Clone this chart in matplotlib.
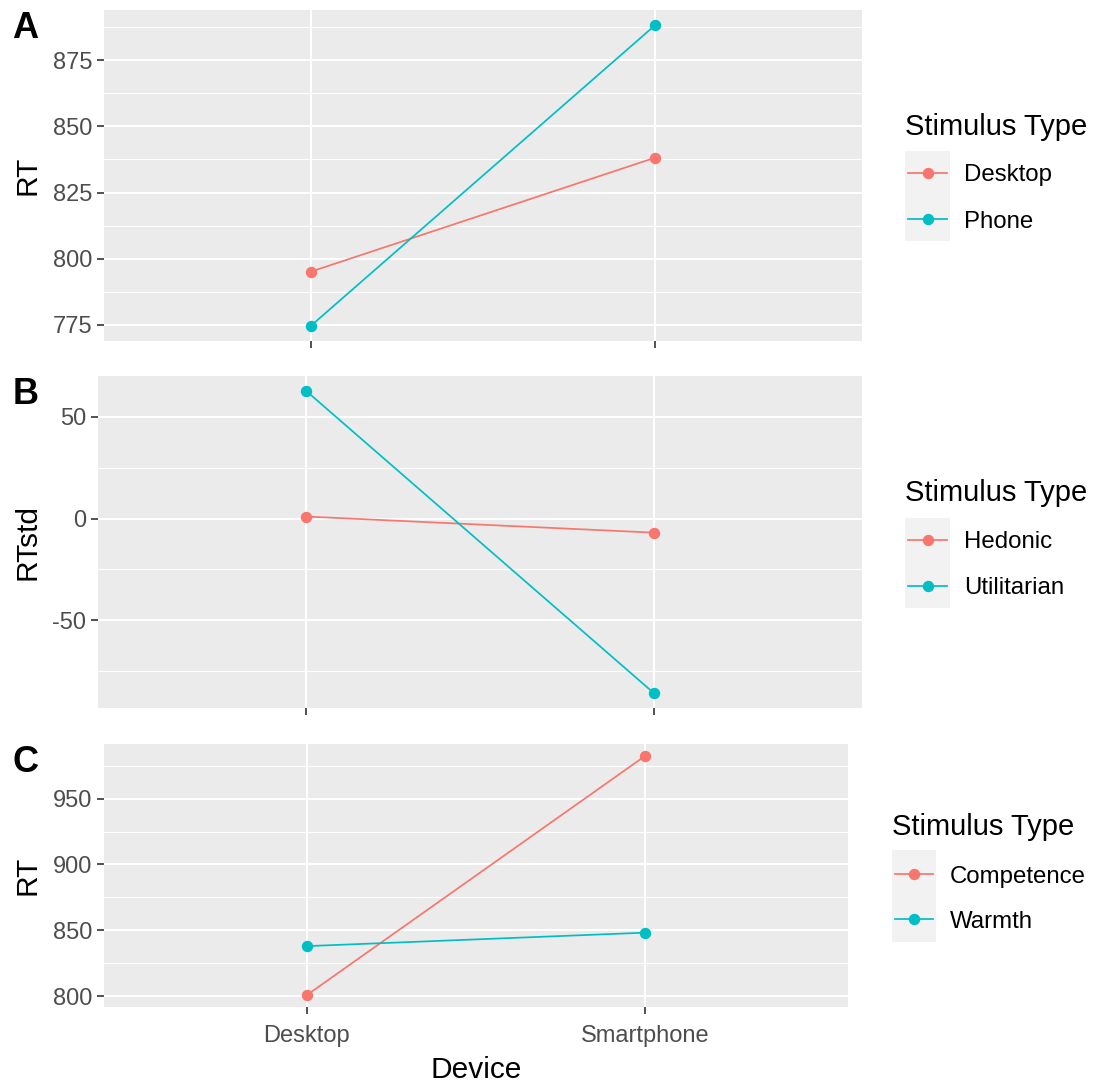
import matplotlib
matplotlib.use("Agg")
import matplotlib.pyplot as plt
from matplotlib.ticker import MultipleLocator, AutoMinorLocator
from matplotlib.lines import Line2D

plt.rcParams['font.family'] = ['Liberation Sans', 'DejaVu Sans']
plt.rcParams['axes.unicode_minus'] = False

# data
devices = ["Desktop", "Smartphone"]

a_groups = ["Desktop", "Phone"]
a_desktop = [795.1, 838.2]
a_phone = [774.6, 888.3]

b_groups = ["Hedonic", "Utilitarian"]
b_hedonic = [1.0, -6.9]
b_utilitarian = [62.6, -85.6]

c_groups = ["Competence", "Warmth"]
c_competence = [801.0, 982.3]
c_warmth = [838.1, 848.3]

colors = ["#F8766D", "#00BFC4"]

W, H = 1099, 1084
fig = plt.figure(figsize=(W / 100, H / 100), dpi=100)


def box(l, t, r, b):
    return [l / W, 1 - b / H, (r - l) / W, (b - t) / H]


def fx(x):
    return x / W


def fy(y):
    return 1 - y / H


def panel(rect, series, labels, ylabel, step, letter, letter_xy, show_x, leg):
    ax = fig.add_axes(box(*rect))
    ax.set_facecolor("#EBEBEB")
    xs = list(range(1, len(devices) + 1))
    for vals, c in zip(series, colors):
        ax.plot(xs, vals, color=c, lw=1.25, marker="o", ms=7.2, mec=c, zorder=3)

    # ggplot style expansion
    allv = [v for s in series for v in s]
    lo, hi = min(allv), max(allv)
    pad = (hi - lo) * 0.05
    ax.set_ylim(lo - pad, hi + pad)
    ax.set_xlim(0.4, len(devices) + 0.6)

    ax.set_xticks(xs)
    ax.set_xticklabels(devices if show_x else [])
    ax.yaxis.set_major_locator(MultipleLocator(step))
    ax.yaxis.set_minor_locator(AutoMinorLocator(2))
    ax.grid(which="major", color="white", lw=1.5)
    ax.grid(which="minor", axis="y", color="white", lw=0.8)
    ax.set_axisbelow(True)
    for sp in ax.spines.values():
        sp.set_visible(False)
    ax.tick_params(axis="both", which="major", length=5, width=1.2, color="#333333",
                   labelsize=17, labelcolor="#4D4D4D", pad=3.6)
    ax.tick_params(axis="x", pad=8)
    ax.tick_params(axis="y", which="minor", length=0)

    top, bot = rect[1], rect[3]
    fig.text(fx(28), fy((top + bot) / 2), ylabel, rotation=90, ha="center", va="center",
             fontsize=21.5)
    fig.text(fx(letter_xy[0]), fy(letter_xy[1]), letter, ha="center", va="center",
             fontsize=26, fontweight="bold")

    # legend
    tx, ty, kb, lx, kys = leg
    fig.text(fx(tx), fy(ty + 10), "Stimulus Type", ha="left", va="baseline", fontsize=21)
    kax = fig.add_axes(box(*kb))
    kax.set_facecolor("#F2F2F2")
    kax.set_xlim(0, 1)
    kax.set_ylim(kb[3], kb[1])
    kax.set_xticks([])
    kax.set_yticks([])
    for sp in kax.spines.values():
        sp.set_visible(False)
    for ky, lab, c in zip(kys, labels, colors):
        kax.add_line(Line2D([0.07, 0.93], [ky, ky], color=c, lw=1.25))
        kax.plot([0.5], [ky], marker="o", ms=7.2, color=c)
        fig.text(fx(lx), fy(ky + 8.5), lab, ha="left", va="baseline", fontsize=17.3)
    return ax


panel((104, 10, 862, 341), [a_desktop, a_phone], a_groups, "RT", 25, "A", (25, 28), False,
      (905, 125, (905, 151, 950, 241), 964, [173, 219]))
panel((98, 376, 862, 708), [b_hedonic, b_utilitarian], b_groups, "RTstd", 50, "B", (26, 395), False,
      (905, 491, (905, 518, 950, 608), 964, [540, 586]))
axc = panel((104, 744, 848, 1007), [c_competence, c_warmth], c_groups, "RT", 50, "C", (26, 762), True,
            (892, 825, (892, 850, 936, 942), 950, [874, 919]))

fig.text(fx(476), fy(1078), "Device", ha="center", va="baseline", fontsize=21.5)

fig.savefig("out.png", dpi=100)
